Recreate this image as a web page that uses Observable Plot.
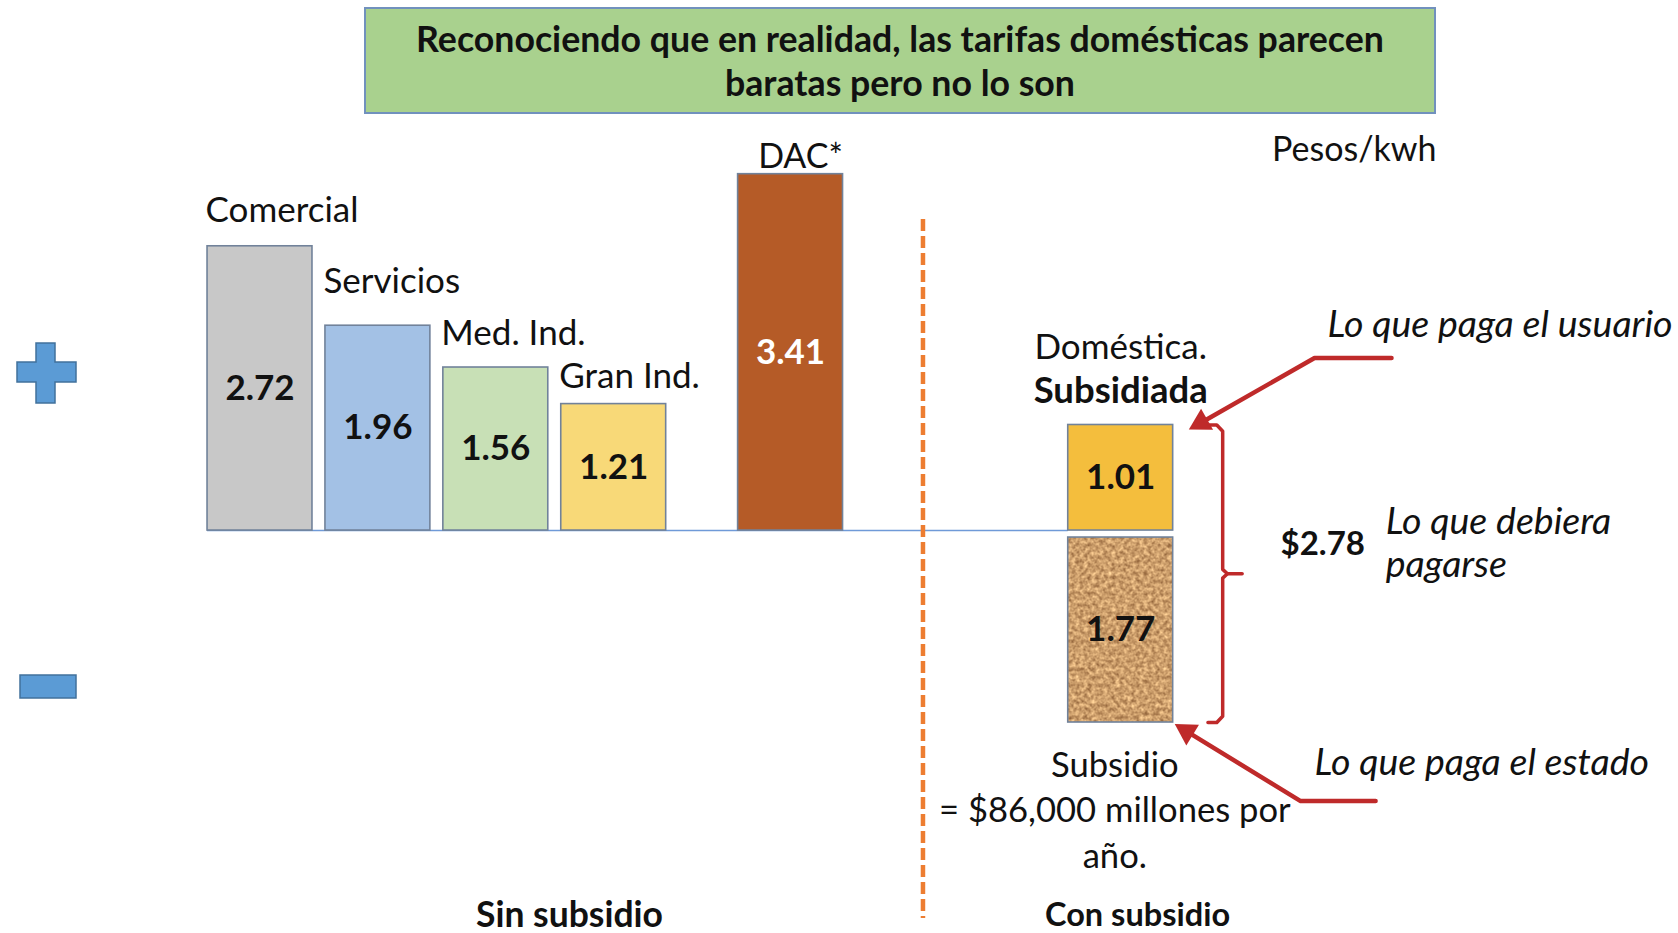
<!DOCTYPE html>
<html><head><meta charset="utf-8">
<script src="https://cdn.jsdelivr.net/npm/d3@7"></script>
<script src="https://cdn.jsdelivr.net/npm/@observablehq/plot@0.6"></script>
<style>
html,body{margin:0;padding:0;background:#fff;}
#wrap{position:relative;width:1678px;height:933px;font-family:Lato,"Open Sans",sans-serif;}
#chart{position:absolute;left:0;top:0;}
#title{position:absolute;left:364px;top:7px;width:1072px;height:107px;background:#a9d18e;border:2px solid #7191bd;box-sizing:border-box;display:flex;align-items:center;justify-content:center;text-align:center;font-weight:700;font-size:35.7px;line-height:44px;color:#111;}
</style></head>
<body>
<div id="wrap"><div id="chart"></div><div id="title"><div>Reconociendo que en realidad, las tarifas domésticas parecen<br>baratas pero no lo son</div></div></div>
<script>
// ---- data ----
const categories = ["Comercial", "Servicios", "Med. Ind.", "Gran Ind.", "DAC*"];
const tariffs = [2.72, 1.96, 1.56, 1.21, 3.41];
const domesticLabel = ["Doméstica.", "Subsidiada"];
const domesticPaid = 1.01;   // lo que paga el usuario
const subsidy = 1.77;        // lo que paga el estado
const subsidyNote = "Subsidio\n= $86,000 millones por\naño.";
const unitLabel = "Pesos/kwh";
const groupLabels = ["Sin subsidio", "Con subsidio"];
const notes = ["Lo que paga el usuario", "Lo que debiera\npagarse", "Lo que paga el estado"];

// ---- layout / style (not data) ----
const slotOf = {"Comercial": 0, "Servicios": 1, "Med. Ind.": 2, "Gran Ind.": 3, "DAC*": 4.5};
const labelLift = {"Comercial": 35, "Servicios": 44, "Med. Ind.": 34, "Gran Ind.": 27, "DAC*": 17}; // px above bar top
const domSlot = 7.3;
const HW = 0.445;            // half bar width in slot units
const GAP = 0.067;           // gap between paid and subsidy blocks
const fills = {"Comercial": "#c8c8c8", "Servicios": "#a3c1e5", "Med. Ind.": "#c8e0b6", "Gran Ind.": "#f8d978", "DAC*": "#b55b27"};
const BORDER = "#71829a";
const RED = "#bf2a2a";
const FONT = "Lato, 'Open Sans', sans-serif";
const XD = [-2.201, 12.031], YD = [-3.856, 5.072], W = 1678, H = 933;
const kx = W / (XD[1] - XD[0]), ky = H / (YD[1] - YD[0]);   // px per unit

const rows = categories.map((c, i) => ({cat: c, value: tariffs[i], slot: slotOf[c], color: fills[c]}));
const total = +(domesticPaid + subsidy).toFixed(2);

const yTop = domesticPaid, yBot = -(GAP + subsidy), yMid = (yTop + yBot) / 2;
const vx = domSlot + 0.865, hx = domSlot + 0.74, tx = domSlot + 1.03, e = 0.06;
const brace = [[hx, yTop], [vx - 0.05, yTop], [vx, yTop - e], [vx, yMid + e * 0.7], [vx + 0.04, yMid], [vx, yMid - e * 0.7], [vx, yBot + e], [vx - 0.05, yBot], [hx, yBot]];
const braceTip = [[vx + 0.04, yMid], [tx, yMid]];

// arrow: polyline with filled triangular head
function arrow(pts, back = 11) {
  const [x1, y1] = pts[pts.length - 2], [x2, y2] = pts[pts.length - 1];
  const dxp = (x2 - x1) * kx, dyp = -(y2 - y1) * ky, L = Math.hypot(dxp, dyp);
  const ux = dxp / L, uy = dyp / L;
  const c = [x2 - ux * back / kx, y2 + uy * back / ky];
  const rot = Math.atan2(ux, -uy) * 180 / Math.PI;
  return [
    Plot.line([...pts.slice(0, -1), c], {stroke: RED, strokeWidth: 4.5}),
    Plot.dot([c], {x: d => d[0], y: d => d[1], symbol: "triangle", r: 9, rotate: rot, fill: RED, stroke: null})
  ];
}

const T = (txt, s, v, o = {}) => Plot.text([txt], {x: [s], y: [v], text: [txt], fontFamily: FONT, fill: "#111", ...o});

const plot = Plot.plot({
  width: W, height: H, margin: 0,
  x: {domain: XD, axis: null},
  y: {domain: YD, axis: null},
  color: {type: "identity"},
  style: {fontFamily: FONT, background: "transparent", overflow: "visible"},
  marks: [
    Plot.ruleY([0], {x1: -HW, x2: domSlot - HW, stroke: "#6f9ad8", strokeWidth: 1.6}),
    Plot.ruleX([5.623], {y1: 2.976, y2: -3.713, stroke: "#ed7d31", strokeWidth: 4.5, strokeDasharray: "12,5"}),
    Plot.rectY(rows, {x1: d => d.slot - HW, x2: d => d.slot + HW, y1: 0, y2: "value", fill: "color", stroke: BORDER, strokeWidth: 1.6}),
    Plot.rectY([domesticPaid], {x1: [domSlot - HW], x2: [domSlot + HW], y1: [0], y2: d => d, fill: "#f4be3d", stroke: BORDER, strokeWidth: 1.6}),
    Plot.rectY([subsidy], {x1: [domSlot - HW], x2: [domSlot + HW], y1: [-GAP], y2: d => -GAP - d, fill: "url(#cork)", stroke: BORDER, strokeWidth: 1.6}),
    Plot.text(rows.filter(d => d.cat !== "DAC*"), {x: d => d.slot - HW, y: d => d.value + labelLift[d.cat] / ky, text: "cat", textAnchor: "start", dx: -2, fontSize: 35, fill: "#111", fontFamily: FONT}),
    Plot.text(rows.filter(d => d.cat === "DAC*"), {x: "slot", y: d => d.value + labelLift[d.cat] / ky, text: "cat", dx: 10, fontSize: 34, fill: "#111", fontFamily: FONT}),
    Plot.text(rows, {x: "slot", y: d => d.value / 2, text: d => d.value.toFixed(2), fill: d => d.cat === "DAC*" ? "#ffffff" : "#111", fontWeight: "bold", fontSize: 35, fontFamily: FONT}),
    Plot.text([domesticPaid], {x: [domSlot], y: d => d / 2, text: d => d.toFixed(2), fontWeight: "bold", fontSize: 35, fill: "#111", fontFamily: FONT}),
    Plot.text([subsidy], {x: [domSlot], y: d => -GAP - d / 2, text: d => d.toFixed(2), fontWeight: "bold", fontSize: 35, fill: "#111", fontFamily: FONT}),
    T(domesticLabel[0], domSlot, yTop, {dy: -77, fontSize: 35}),
    T(domesticLabel[1], domSlot, yTop, {dy: -34, fontSize: 36.5, fontWeight: "bold"}),
    Plot.text([subsidyNote], {x: [domSlot - 0.05], y: [yBot], text: [subsidyNote], lineAnchor: "top", dy: 22, lineHeight: 1.315, fontSize: 34.6, fill: "#111", fontFamily: FONT}),
    Plot.line(brace, {stroke: RED, strokeWidth: 3.5}),
    Plot.line(braceTip, {stroke: RED, strokeWidth: 3.5}),
    T("$" + total.toFixed(2), 8.656, -0.134, {textAnchor: "start", fontWeight: "bold", fontSize: 33}),
    T(notes[1], 9.547, -0.105, {textAnchor: "start", fontStyle: "italic", fontSize: 37.5, lineHeight: 1.17}),
    ...arrow([[9.597, 1.651], [8.944, 1.651], [domSlot + 0.6, yTop - 0.03]]),
    ...arrow([[9.462, -2.589], [8.826, -2.589], [domSlot + 0.48, yBot - 0.03]]),
    T(notes[0], 9.055, 1.971, {textAnchor: "start", fontStyle: "italic", fontSize: 37.5}),
    T(notes[2], 8.944, -2.22, {textAnchor: "start", fontStyle: "italic", fontSize: 37.5}),
    T(groupLabels[0], 2.625, -3.684, {fontWeight: "bold", fontSize: 35.5}),
    T(groupLabels[1], 7.443, -3.684, {fontWeight: "bold", fontSize: 32.5}),
    Plot.text([unitLabel], {frameAnchor: "top-right", text: [unitLabel], dx: -242, dy: 150, lineAnchor: "middle", fontSize: 34, fill: "#111", fontFamily: FONT})
  ]
});

document.getElementById("chart").appendChild(plot);

const svg = d3.select(plot);
const defs = svg.insert("defs", ":first-child");
const f = defs.append("filter").attr("id", "corkF").attr("x", 0).attr("y", 0).attr("width", "100%").attr("height", "100%")
  .attr("color-interpolation-filters", "sRGB");
f.append("feTurbulence").attr("type", "fractalNoise").attr("baseFrequency", "0.25").attr("numOctaves", 3).attr("seed", 7).attr("result", "n");
f.append("feColorMatrix").attr("in", "n").attr("type", "matrix")
  .attr("values", "0.6 0 0 0 0.5  0.6 0 0 0 0.32  0.5 0 0 0 0.17  0 0 0 0 1");
const pat = defs.append("pattern").attr("id", "cork").attr("patternUnits", "userSpaceOnUse").attr("width", 400).attr("height", 400);
pat.append("rect").attr("width", 400).attr("height", 400).attr("filter", "url(#corkF)");

const deco = svg.append("g").attr("fill", "#5b9bd5").attr("stroke", "#41719c").attr("stroke-width", 1.5);
deco.append("polygon").attr("points", "36,343 55,343 55,362 76,362 76,382 55,382 55,403 36,403 36,382 17,382 17,362 36,362");
deco.append("rect").attr("x", 20).attr("y", 675).attr("width", 56).attr("height", 23);
</script>
</body></html>
